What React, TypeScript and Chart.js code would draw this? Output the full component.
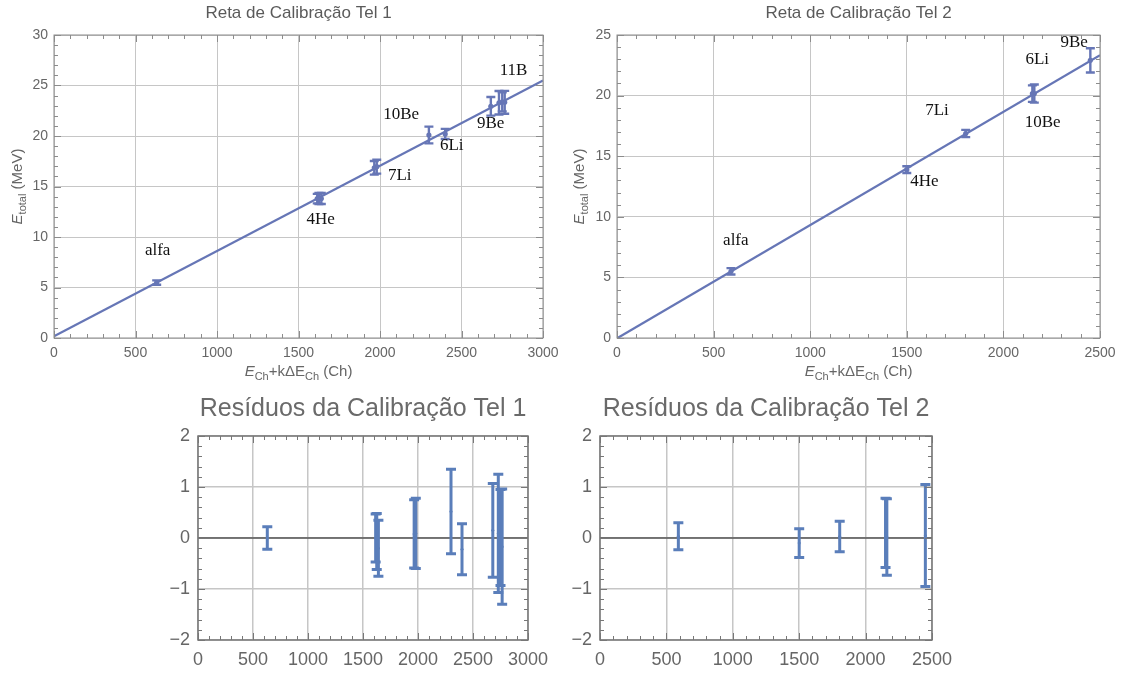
import React, { useEffect, useRef } from "react";
import { Chart, registerables } from "chart.js";
Chart.register(...registerables);

// ---------- Data: Telescope 1 ----------
const tel1Ch = [630, 1615, 1625, 1640, 1965, 1980, 2300, 2400, 2680, 2730, 2750, 2765];
const tel1E = [5.49, 13.8, 13.81, 13.81, 16.85, 16.96, 20.1, 20.21, 22.94, 23.29, 23.38, 23.34];
const tel1Err = [0.22, 0.47, 0.55, 0.55, 0.67, 0.69, 0.83, 0.5, 0.92, 1.16, 0.94, 1.13];
const tel1Res = [0.0, 0.0, -0.07, -0.2, 0.08, 0.09, 0.52, -0.22, 0.15, 0.09, 0.01, -0.17];
const tel1FitX = [0, 3000];
const tel1FitY = [0.17, 25.5];
const tel1Names = ["alfa", "4He", "7Li", "10Be", "6Li", "9Be", "11B"];
const tel1NameX = [636, 1636, 2121, 2130, 2440, 2679, 2819];
const tel1NameY = [8.7, 11.7, 16.1, 22.1, 19.1, 21.2, 26.5];

// ---------- Data: Telescope 2 ----------
const tel2Ch = [590, 1500, 1805, 2150, 2160, 2450];
const tel2E = [5.5, 13.89, 16.87, 20.16, 20.17, 22.91];
const tel2Err = [0.265, 0.28, 0.3, 0.68, 0.75, 1.0];
const tel2Res = [0.035, -0.1, 0.03, 0.1, 0.02, 0.05];
const tel2FitX = [0, 2500];
const tel2FitY = [-0.03, 23.33];
const tel2Names = ["alfa", "4He", "7Li", "6Li", "10Be", "9Be"];
const tel2NameX = [615, 1591, 1656, 2175, 2203, 2366];
const tel2NameY = [8.05, 12.9, 18.8, 23.0, 17.8, 24.4];

// ---------- Text ----------
const titleTel1 = "Reta de Calibração Tel 1";
const titleTel2 = "Reta de Calibração Tel 2";
const titleRes1 = "Resíduos da Calibração Tel 1";
const titleRes2 = "Resíduos da Calibração Tel 2";

type Seg = { t: string; sub?: boolean; it?: boolean };
const yTitleSegs: Seg[] = [{ t: "E", it: true }, { t: "total", sub: true }, { t: " (MeV)" }];
const xTitleSegs: Seg[] = [
  { t: "E", it: true },
  { t: "Ch", sub: true },
  { t: "+kΔE" },
  { t: "Ch", sub: true },
  { t: " (Ch)" },
];

const SANS = '"Liberation Sans", Arial, sans-serif';
const SERIF = '"Liberation Serif", "Times New Roman", serif';

interface PanelCfg {
  xMax: number; xStep: number; xMinor: number;
  yMin: number; yMax: number; yStep: number; yMinor: number;
  xs: number[]; ys: number[]; errs: number[];
  fitX?: number[]; fitY?: number[];
  zeroLine?: boolean;
  names?: string[]; nameX?: number[]; nameY?: number[];
  title: string; titleSize: number; titleY: number; titleColor: string;
  axisTitles?: boolean; yTitleX?: number; xTitleY?: number;
  pad: { left: number; top: number; right: number; bottom: number };
  yWidth: number; xHeight: number;
  tickSize: number; xPad: number; yPad: number;
  color: string; pointR: number; barW: number; capHalf: number;
  gridColor: string; gridW: number; frameColor: string; frameW: number;
}

function drawRich(ctx: CanvasRenderingContext2D, segs: Seg[], cx: number, cy: number, size: number, color: string, rotate: boolean) {
  ctx.save();
  ctx.translate(cx, cy);
  if (rotate) ctx.rotate(-Math.PI / 2);
  const fontFor = (s: Seg) => `${s.it ? "italic " : ""}${s.sub ? Math.round(size * 0.75) : size}px ${SANS}`;
  let total = 0;
  const widths = segs.map((s) => {
    ctx.font = fontFor(s);
    const w = ctx.measureText(s.t).width;
    total += w;
    return w;
  });
  let x = -total / 2;
  ctx.fillStyle = color;
  ctx.textBaseline = "middle";
  ctx.textAlign = "left";
  segs.forEach((s, i) => {
    ctx.font = fontFor(s);
    ctx.fillText(s.t, x, s.sub ? size * 0.3 : 0);
    x += widths[i];
  });
  ctx.restore();
}

const fmt = (v: number | string) => String(v).replace("-", "−");

function buildConfig(c: PanelCfg): any {
  const datasets: any[] = [];
  if (c.fitX && c.fitY) {
    datasets.push({
      data: c.fitX.map((x, i) => ({ x, y: c.fitY![i] })),
      showLine: true,
      borderColor: c.color,
      borderWidth: 2.2,
      pointRadius: 0,
      fill: false,
    });
  }
  datasets.push({
    data: c.xs.map((x, i) => ({ x, y: c.ys[i] })),
    backgroundColor: c.color,
    borderColor: c.color,
    borderWidth: 0,
    pointRadius: c.pointR,
    pointHoverRadius: c.pointR,
  });

  const plugin = {
    id: "panelDeco",
    beforeDatasetsDraw(chart: any) {
      if (!c.zeroLine) return;
      const { ctx, chartArea: a, scales } = chart;
      const py = scales.y.getPixelForValue(0);
      ctx.save();
      ctx.strokeStyle = "#555";
      ctx.lineWidth = 1.5;
      ctx.beginPath();
      ctx.moveTo(a.left, py);
      ctx.lineTo(a.right, py);
      ctx.stroke();
      ctx.restore();
    },
    afterDatasetsDraw(chart: any) {
      const { ctx, chartArea: a, scales } = chart;
      const sx = scales.x, sy = scales.y;
      ctx.save();
      // error bars
      ctx.strokeStyle = c.color;
      ctx.lineWidth = c.barW;
      ctx.lineCap = "butt";
      c.xs.forEach((x, i) => {
        const px = sx.getPixelForValue(x);
        const y1 = sy.getPixelForValue(c.ys[i] - c.errs[i]);
        const y2 = sy.getPixelForValue(c.ys[i] + c.errs[i]);
        ctx.beginPath();
        ctx.moveTo(px, y1);
        ctx.lineTo(px, y2);
        ctx.moveTo(px - c.capHalf, y1);
        ctx.lineTo(px + c.capHalf, y1);
        ctx.moveTo(px - c.capHalf, y2);
        ctx.lineTo(px + c.capHalf, y2);
        ctx.stroke();
      });
      // frame
      ctx.strokeStyle = c.frameColor;
      ctx.lineWidth = c.frameW;
      ctx.strokeRect(a.left, a.top, a.right - a.left, a.bottom - a.top);
      // ticks (inward, major + minor)
      ctx.lineWidth = 1;
      ctx.beginPath();
      const nx = Math.round(c.xMax / c.xMinor);
      for (let k = 0; k <= nx; k++) {
        const v = k * c.xMinor;
        const major = Math.abs(v / c.xStep - Math.round(v / c.xStep)) < 1e-6;
        const len = major ? 7 : 4;
        const px = Math.round(sx.getPixelForValue(v)) + 0.5;
        ctx.moveTo(px, a.bottom);
        ctx.lineTo(px, a.bottom - len);
        ctx.moveTo(px, a.top);
        ctx.lineTo(px, a.top + len);
      }
      const ny = Math.round((c.yMax - c.yMin) / c.yMinor);
      for (let k = 0; k <= ny; k++) {
        const v = c.yMin + k * c.yMinor;
        const major = Math.abs(v / c.yStep - Math.round(v / c.yStep)) < 1e-6;
        const len = major ? 7 : 4;
        const py = Math.round(sy.getPixelForValue(v)) + 0.5;
        ctx.moveTo(a.left, py);
        ctx.lineTo(a.left + len, py);
        ctx.moveTo(a.right, py);
        ctx.lineTo(a.right - len, py);
      }
      ctx.stroke();
      // point names
      if (c.names && c.nameX && c.nameY) {
        ctx.fillStyle = "#111";
        ctx.font = `17px ${SERIF}`;
        ctx.textAlign = "center";
        ctx.textBaseline = "middle";
        c.names.forEach((n, i) => {
          ctx.fillText(n, sx.getPixelForValue(c.nameX![i]), sy.getPixelForValue(c.nameY![i]));
        });
      }
      // title
      ctx.fillStyle = c.titleColor;
      ctx.font = `${c.titleSize}px ${SANS}`;
      ctx.textAlign = "center";
      ctx.textBaseline = "middle";
      ctx.fillText(c.title, (a.left + a.right) / 2, c.titleY);
      // axis titles
      if (c.axisTitles) {
        drawRich(ctx, yTitleSegs, c.yTitleX!, (a.top + a.bottom) / 2, 15, "#666", true);
        drawRich(ctx, xTitleSegs, (a.left + a.right) / 2, c.xTitleY!, 15, "#666", false);
      }
      ctx.restore();
    },
  };

  const tickFont = { family: SANS, size: c.tickSize };
  return {
    type: "scatter",
    data: { datasets },
    options: {
      animation: false,
      responsive: false,
      events: [],
      layout: { padding: c.pad },
      plugins: { legend: { display: false }, tooltip: { enabled: false }, title: { display: false } },
      scales: {
        x: {
          type: "linear",
          min: 0,
          max: c.xMax,
          ticks: { stepSize: c.xStep, padding: c.xPad, color: "#666", font: tickFont, maxRotation: 0, autoSkip: false, callback: (v: any) => fmt(v) },
          grid: { color: c.gridColor, lineWidth: c.gridW, drawTicks: false },
          border: { display: false },
          afterFit: (s: any) => {
            s.height = c.xHeight;
            s.paddingLeft = 0;
            s.paddingRight = 0;
          },
        },
        y: {
          type: "linear",
          min: c.yMin,
          max: c.yMax,
          ticks: { stepSize: c.yStep, padding: c.yPad, color: "#666", font: tickFont, autoSkip: false, callback: (v: any) => fmt(v) },
          grid: { color: c.gridColor, lineWidth: c.gridW, drawTicks: false },
          border: { display: false },
          afterFit: (s: any) => {
            s.width = c.yWidth;
            s.paddingTop = 0;
            s.paddingBottom = 0;
          },
        },
      },
    },
    plugins: [plugin],
  };
}

const TOP_COLOR = "#6676b6";
const RES_COLOR = "#5a7eba";

const topCommon = {
  xStep: 500, xMinor: 100, yMin: 0, yStep: 5, yMinor: 1,
  titleSize: 17, titleY: 13, titleColor: "#5a5a5a",
  axisTitles: true, xTitleY: 372,
  xHeight: 52, tickSize: 14, xPad: 7, yPad: 6,
  color: TOP_COLOR, pointR: 2.6, barW: 2.4, capHalf: 4.5,
  gridColor: "#c6c6c6", gridW: 1, frameColor: "#8c8c8c", frameW: 1,
};

const resCommon = {
  xStep: 500, xMinor: 100, yMin: -2, yMax: 2, yStep: 1, yMinor: 0.2,
  titleSize: 25, titleY: 24, titleColor: "#6a6a6a",
  axisTitles: false, zeroLine: true,
  xHeight: 35, tickSize: 18, xPad: 9, yPad: 8,
  color: RES_COLOR, pointR: 1.5, barW: 3, capHalf: 5,
  gridColor: "#c6c6c6", gridW: 1.5, frameColor: "#777", frameW: 1.5,
};

const panelTL: PanelCfg = {
  ...topCommon, xMax: 3000, yMax: 30,
  xs: tel1Ch, ys: tel1E, errs: tel1Err, fitX: tel1FitX, fitY: tel1FitY,
  names: tel1Names, nameX: tel1NameX, nameY: tel1NameY,
  title: titleTel1, yTitleX: 18,
  pad: { left: 0, top: 35, right: 17, bottom: 0 }, yWidth: 54,
};

const panelTR: PanelCfg = {
  ...topCommon, xMax: 2500, yMax: 25,
  xs: tel2Ch, ys: tel2E, errs: tel2Err, fitX: tel2FitX, fitY: tel2FitY,
  names: tel2Names, nameX: tel2NameX, nameY: tel2NameY,
  title: titleTel2, yTitleX: 20,
  pad: { left: 0, top: 35, right: 24, bottom: 0 }, yWidth: 57,
};

const panelBL: PanelCfg = {
  ...resCommon, xMax: 3000,
  xs: tel1Ch, ys: tel1Res, errs: tel1Err,
  title: titleRes1,
  pad: { left: 0, top: 51, right: 32, bottom: 0 }, yWidth: 38,
};

const panelBR: PanelCfg = {
  ...resCommon, xMax: 2500,
  xs: tel2Ch, ys: tel2Res, errs: tel2Err,
  title: titleRes2,
  pad: { left: 0, top: 51, right: 28, bottom: 0 }, yWidth: 40,
};

function Panel({ cfg, left, top, w, h }: { cfg: PanelCfg; left: number; top: number; w: number; h: number }) {
  const ref = useRef<HTMLCanvasElement>(null);
  useEffect(() => {
    const chart = new Chart(ref.current as HTMLCanvasElement, buildConfig(cfg));
    return () => chart.destroy();
  }, [cfg]);
  return (
    <canvas
      ref={ref}
      width={w}
      height={h}
      style={{ position: "absolute", left, top, width: w, height: h, display: "block" }}
    />
  );
}

export default function App() {
  return (
    <div style={{ position: "fixed", left: 0, top: 0, width: 1124, height: 675, background: "#fff", overflow: "hidden" }}>
      <Panel cfg={panelTL} left={0} top={0} w={560} h={390} />
      <Panel cfg={panelTR} left={560} top={0} w={564} h={390} />
      <Panel cfg={panelBL} left={160} top={385} w={400} h={290} />
      <Panel cfg={panelBR} left={560} top={385} w={400} h={290} />
    </div>
  );
}
